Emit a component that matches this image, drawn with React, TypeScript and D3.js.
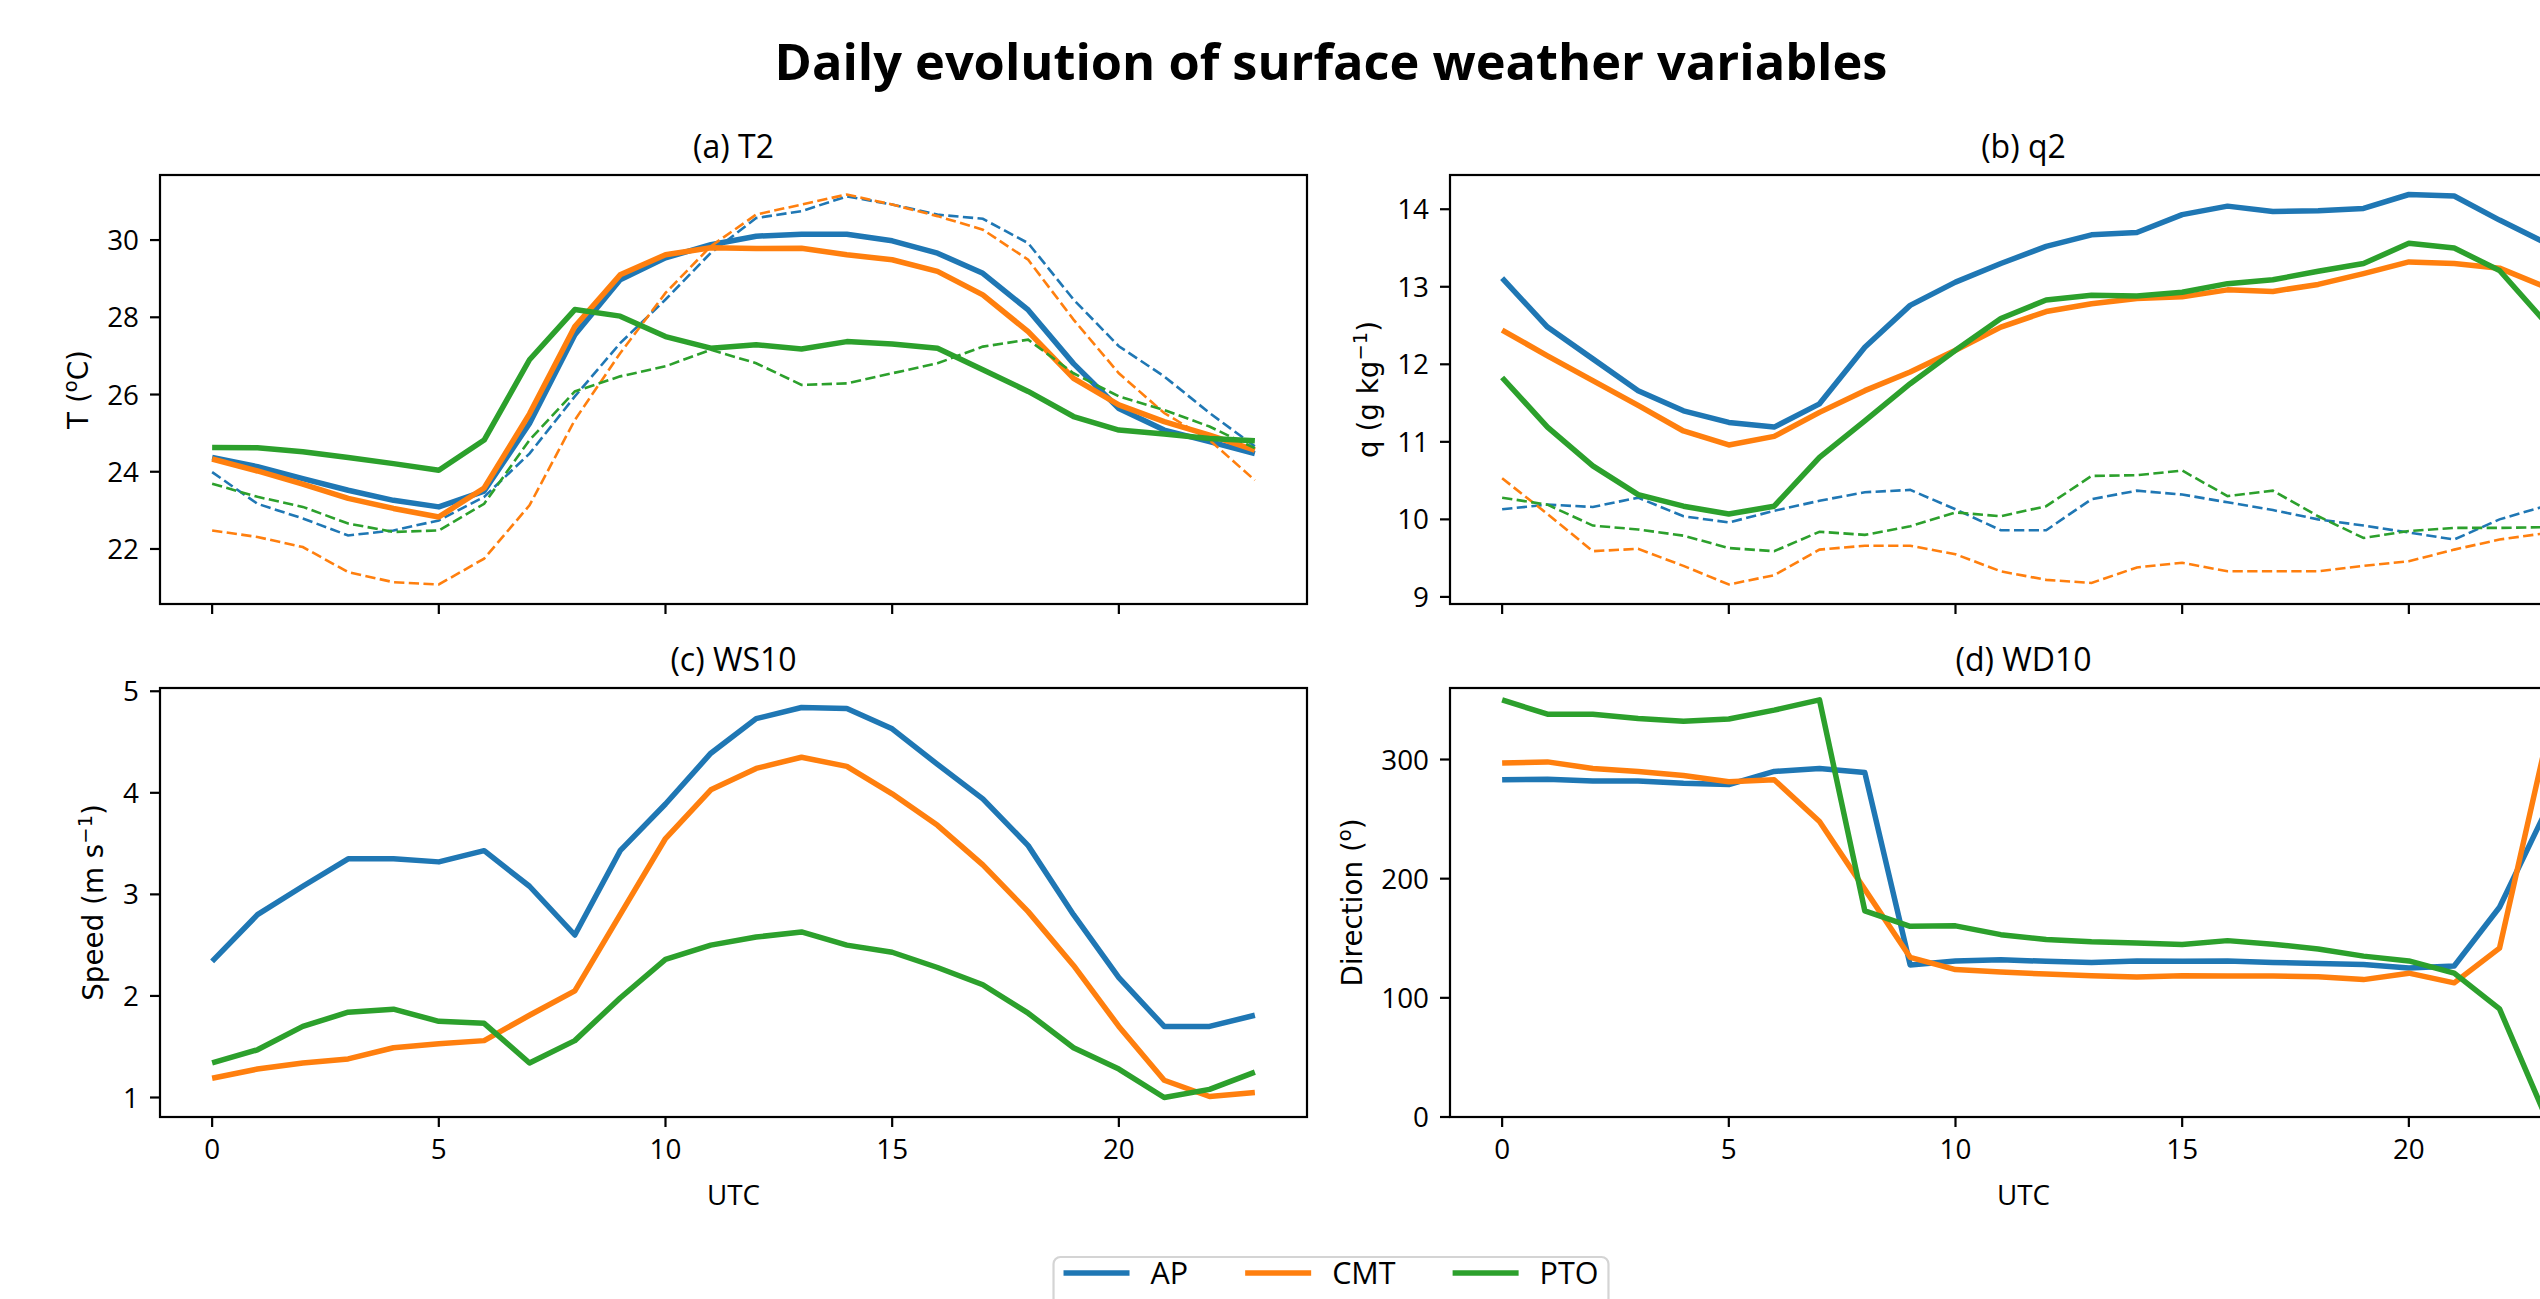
import React, { useEffect, useRef } from "react";
import * as d3 from "d3";

const HOURS = [0, 1, 2, 3, 4, 5, 6, 7, 8, 9, 10, 11, 12, 13, 14, 15, 16, 17, 18, 19, 20, 21, 22, 23];
const STATIONS = ["AP", "CMT", "PTO"];
const COLORS = ["#1f77b4", "#ff7f0e", "#2ca02c"];

// (a) T2, degC
const T2_AP = [24.37, 24.13, 23.82, 23.52, 23.26, 23.09, 23.5, 25.25, 27.55, 28.97, 29.54, 29.88, 30.1, 30.15, 30.15, 29.98, 29.66, 29.14, 28.19, 26.8, 25.64, 25.08, 24.78, 24.47];
const T2_CMT = [24.33, 24.02, 23.68, 23.31, 23.05, 22.83, 23.58, 25.5, 27.76, 29.1, 29.62, 29.8, 29.78, 29.79, 29.62, 29.49, 29.19, 28.58, 27.63, 26.42, 25.73, 25.3, 24.95, 24.56];
const T2_PTO = [24.63, 24.62, 24.52, 24.37, 24.21, 24.04, 24.82, 26.9, 28.2, 28.03, 27.5, 27.2, 27.29, 27.18, 27.37, 27.31, 27.2, 26.64, 26.08, 25.43, 25.08, 24.98, 24.86, 24.8];
const T2_AP_DASHED = [23.99, 23.17, 22.79, 22.35, 22.48, 22.74, 23.35, 24.47, 25.95, 27.33, 28.46, 29.67, 30.57, 30.75, 31.13, 30.92, 30.66, 30.55, 29.92, 28.46, 27.25, 26.47, 25.52, 24.66];
const T2_CMT_DASHED = [22.48, 22.31, 22.05, 21.4, 21.14, 21.08, 21.75, 23.13, 25.34, 27.07, 28.63, 29.84, 30.66, 30.92, 31.18, 30.92, 30.62, 30.27, 29.49, 27.94, 26.55, 25.52, 24.82, 23.78];
const T2_PTO_DASHED = [23.69, 23.35, 23.09, 22.66, 22.44, 22.48, 23.17, 24.82, 26.08, 26.47, 26.73, 27.16, 26.81, 26.25, 26.29, 26.55, 26.81, 27.24, 27.42, 26.55, 25.95, 25.6, 25.17, 24.61];

// (b) q2, g/kg
const Q2_AP = [13.11, 12.48, 12.07, 11.66, 11.4, 11.25, 11.19, 11.49, 12.22, 12.76, 13.06, 13.3, 13.52, 13.67, 13.7, 13.93, 14.04, 13.97, 13.98, 14.01, 14.19, 14.17, 13.86, 13.57];
const Q2_CMT = [12.44, 12.11, 11.79, 11.47, 11.14, 10.96, 11.07, 11.38, 11.66, 11.9, 12.18, 12.48, 12.68, 12.78, 12.85, 12.87, 12.96, 12.94, 13.03, 13.17, 13.32, 13.3, 13.24, 13.0];
const Q2_PTO = [11.83, 11.19, 10.69, 10.32, 10.17, 10.07, 10.17, 10.8, 11.27, 11.75, 12.18, 12.59, 12.83, 12.89, 12.88, 12.93, 13.04, 13.09, 13.2, 13.3, 13.56, 13.5, 13.21, 12.55];
const Q2_AP_DASHED = [10.13, 10.19, 10.16, 10.28, 10.04, 9.96, 10.11, 10.24, 10.35, 10.38, 10.13, 9.86, 9.86, 10.26, 10.37, 10.32, 10.22, 10.12, 10.0, 9.92, 9.83, 9.74, 10.0, 10.17];
const Q2_CMT_DASHED = [10.53, 10.07, 9.59, 9.62, 9.4, 9.16, 9.28, 9.61, 9.66, 9.66, 9.55, 9.33, 9.22, 9.18, 9.38, 9.44, 9.33, 9.33, 9.33, 9.4, 9.46, 9.61, 9.74, 9.82];
const Q2_PTO_DASHED = [10.28, 10.19, 9.92, 9.87, 9.79, 9.63, 9.59, 9.84, 9.8, 9.91, 10.09, 10.04, 10.17, 10.56, 10.57, 10.63, 10.3, 10.37, 10.04, 9.76, 9.85, 9.89, 9.89, 9.9];

// (c) WS10, m/s
const WS10_AP = [2.34, 2.8, 3.08, 3.35, 3.35, 3.32, 3.43, 3.08, 2.6, 3.43, 3.89, 4.39, 4.73, 4.84, 4.83, 4.63, 4.28, 3.94, 3.48, 2.8, 2.18, 1.7, 1.7, 1.81];
const WS10_CMT = [1.19, 1.28, 1.34, 1.38, 1.49, 1.53, 1.56, 1.81, 2.05, 2.8, 3.55, 4.03, 4.24, 4.35, 4.26, 3.99, 3.68, 3.29, 2.83, 2.3, 1.7, 1.17, 1.01, 1.05];
const WS10_PTO = [1.34, 1.47, 1.7, 1.84, 1.87, 1.75, 1.73, 1.34, 1.56, 1.98, 2.36, 2.5, 2.58, 2.63, 2.5, 2.43, 2.28, 2.11, 1.83, 1.49, 1.28, 1.0, 1.08, 1.25];

// (d) WD10, degrees
const WD10_AP = [283, 283.5, 282, 282, 280, 279, 290, 292.5, 289, 127.6, 131, 132, 130.6, 129.7, 131, 130.6, 131, 129.7, 128.8, 128, 125, 126.7, 176, 255];
const WD10_CMT = [297, 298, 292.5, 290, 286.5, 281.4, 283, 248, 191, 134, 123.7, 121.6, 120, 118.6, 117.4, 118.6, 118.3, 118.3, 117.7, 115.3, 120.7, 112.6, 141.7, 310];
const WD10_PTO = [350, 338, 338, 334.5, 332, 334, 341.4, 350, 173, 160, 160.4, 153, 149, 147, 146, 144.7, 148, 145, 141, 135, 131, 120.7, 90.7, 2];
const WD10_LIMITS = [0, 360];

const W = 2540;
const H = 1299;
const FIG_CX = 1331; // the figure is wider than the window, its centre is here
const PW = 1147;
const PH = 429;
const TICK_FONT = "'Open Sans', sans-serif";
const LABEL_FONT = "'DejaVu Sans', sans-serif";
const FS = 27.8;
const TITLE_FS = 32;

type Panel = {
  id: string;
  title: string;
  ylabel: [string, string, string];
  left: number;
  top: number;
  solid: number[][];
  dashed: number[][] | null;
  limits: number[] | null;
  xLabels: boolean;
  ylabelX: number;
};

const panels: Panel[] = [
  { id: "a", title: "(a) T2", ylabel: ["T (", "o", "C)"], left: 160, top: 175, solid: [T2_AP, T2_CMT, T2_PTO], dashed: [T2_AP_DASHED, T2_CMT_DASHED, T2_PTO_DASHED], limits: null, xLabels: false, ylabelX: -72 },
  { id: "b", title: "(b) q2", ylabel: ["q (g kg", "\u22121", ")"], left: 1450, top: 175, solid: [Q2_AP, Q2_CMT, Q2_PTO], dashed: [Q2_AP_DASHED, Q2_CMT_DASHED, Q2_PTO_DASHED], limits: null, xLabels: false, ylabelX: -72 },
  { id: "c", title: "(c) WS10", ylabel: ["Speed (m s", "\u22121", ")"], left: 160, top: 688, solid: [WS10_AP, WS10_CMT, WS10_PTO], dashed: null, limits: null, xLabels: true, ylabelX: -57 },
  { id: "d", title: "(d) WD10", ylabel: ["Direction (", "o", ")"], left: 1450, top: 688, solid: [WD10_AP, WD10_CMT, WD10_PTO], dashed: null, limits: WD10_LIMITS, xLabels: true, ylabelX: -88 },
];

function drawPanel(svg: any, p: Panel) {
  const g = svg.append("g").attr("transform", `translate(${p.left},${p.top})`);

  const [hx0, hx1] = d3.extent(HOURS) as [number, number];
  const xPad = (hx1 - hx0) * 0.05;
  const x = d3.scaleLinear().domain([hx0 - xPad, hx1 + xPad]).range([0, PW]);

  let yDomain = p.limits;
  if (!yDomain) {
    const all = [...p.solid, ...(p.dashed || [])].flat();
    const [lo, hi] = d3.extent(all) as [number, number];
    const pad = (hi - lo) * 0.05;
    yDomain = [lo - pad, hi + pad];
  }
  const y = d3.scaleLinear().domain(yDomain).range([PH, 0]);

  g.append("clipPath")
    .attr("id", `clip-${p.id}`)
    .append("rect")
    .attr("width", PW)
    .attr("height", PH);

  const plot = g.append("g").attr("clip-path", `url(#clip-${p.id})`);
  const line = d3
    .line<number>()
    .x((_, i) => x(HOURS[i]))
    .y((d) => y(d));

  p.solid.forEach((vals, i) => {
    plot
      .append("path")
      .attr("d", line(vals))
      .attr("fill", "none")
      .attr("stroke", COLORS[i])
      .attr("stroke-width", 5.5)
      .attr("stroke-linejoin", "round")
      .attr("stroke-linecap", "butt");
    if (p.dashed) {
      plot
        .append("path")
        .attr("d", line(p.dashed[i]))
        .attr("fill", "none")
        .attr("stroke", COLORS[i])
        .attr("stroke-width", 2.6)
        .attr("stroke-dasharray", "10.3,4.4");
    }
  });

  // spines
  g.append("rect")
    .attr("width", PW)
    .attr("height", PH)
    .attr("fill", "none")
    .attr("stroke", "#000")
    .attr("stroke-width", 2.2);

  // x ticks
  x.ticks(5).forEach((t) => {
    g.append("line")
      .attr("x1", x(t))
      .attr("x2", x(t))
      .attr("y1", PH)
      .attr("y2", PH + 10)
      .attr("stroke", "#000")
      .attr("stroke-width", 2.2);
    if (p.xLabels) {
      g.append("text")
        .attr("x", x(t))
        .attr("y", PH + 42)
        .attr("text-anchor", "middle")
        .attr("font-family", TICK_FONT)
        .attr("font-size", FS)
        .text(String(t));
    }
  });

  // y ticks
  y.ticks(5).forEach((t) => {
    g.append("line")
      .attr("x1", -10)
      .attr("x2", 0)
      .attr("y1", y(t))
      .attr("y2", y(t))
      .attr("stroke", "#000")
      .attr("stroke-width", 2.2);
    g.append("text")
      .attr("x", -21)
      .attr("y", y(t) + 10)
      .attr("text-anchor", "end")
      .attr("font-family", TICK_FONT)
      .attr("font-size", FS)
      .text(String(t));
  });

  // title
  g.append("text")
    .attr("x", PW / 2)
    .attr("y", -17)
    .attr("text-anchor", "middle")
    .attr("font-family", TICK_FONT)
    .attr("font-size", TITLE_FS)
    .text(p.title);

  if (p.xLabels) {
    g.append("text")
      .attr("x", PW / 2)
      .attr("y", PH + 88)
      .attr("text-anchor", "middle")
      .attr("font-family", TICK_FONT)
      .attr("font-size", FS)
      .text("UTC");
  }

  // y label with a superscript part
  const yl = g
    .append("text")
    .attr("transform", `translate(${p.ylabelX},${PH / 2}) rotate(-90)`)
    .attr("text-anchor", "middle")
    .attr("font-family", LABEL_FONT)
    .attr("font-size", FS);
  yl.append("tspan").text(p.ylabel[0]);
  yl.append("tspan")
    .attr("dy", -11)
    .attr("font-size", FS * 0.7)
    .text(p.ylabel[1]);
  yl.append("tspan").attr("dy", 11).text(p.ylabel[2]);
}

function drawLegend(svg: any) {
  const fs = 30.5;
  const handle = 66;
  const textPad = 21;
  const colGap = 57;
  const borderPad = 10;
  const g = svg.append("g");
  const box = g.append("rect");
  const items = g.append("g");
  let cx = 0;
  STATIONS.forEach((name, i) => {
    items
      .append("line")
      .attr("x1", cx)
      .attr("x2", cx + handle)
      .attr("y1", 0)
      .attr("y2", 0)
      .attr("stroke", COLORS[i])
      .attr("stroke-width", 5.5);
    const t = items
      .append("text")
      .attr("x", cx + handle + textPad)
      .attr("y", 11)
      .attr("font-family", TICK_FONT)
      .attr("font-size", fs)
      .text(name);
    const w = (t.node() as SVGTextElement).getComputedTextLength();
    cx += handle + textPad + w + (i < STATIONS.length - 1 ? colGap : 0);
  });
  const total = cx;
  box
    .attr("x", -borderPad)
    .attr("y", -16)
    .attr("width", total + 2 * borderPad)
    .attr("height", 70)
    .attr("rx", 7)
    .attr("fill", "#fff")
    .attr("stroke", "#d4d4d4")
    .attr("stroke-width", 2.2);
  g.attr("transform", `translate(${FIG_CX - total / 2},1273)`);
}

export default function App() {
  const svgRef = useRef<SVGSVGElement>(null);

  useEffect(() => {
    const svg = d3.select(svgRef.current);
    svg.selectAll("*").remove();

    svg.append("rect").attr("width", W).attr("height", H).attr("fill", "#fff");

    svg
      .append("text")
      .attr("x", FIG_CX)
      .attr("y", 80)
      .attr("text-anchor", "middle")
      .attr("font-family", TICK_FONT)
      .attr("font-weight", "bold")
      .attr("font-size", 50.5)
      .text("Daily evolution of surface weather variables");

    panels.forEach((p) => drawPanel(svg, p));
    drawLegend(svg);
  }, []);

  return (
    <svg
      ref={svgRef}
      width={W}
      height={H}
      style={{ position: "absolute", left: 0, top: 0, display: "block" }}
    />
  );
}
